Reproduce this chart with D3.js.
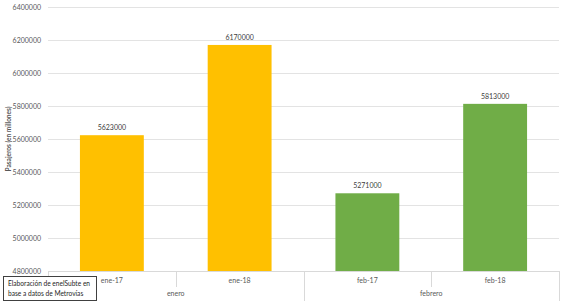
<!DOCTYPE html>
<html>
<head>
<meta charset="utf-8">
<script src="https://cdn.jsdelivr.net/npm/d3@7"></script>
<style>
  body { margin: 0; background: #fff; }
  svg { display: block; font-family: Lato, "Open Sans", sans-serif; }
</style>
</head>
<body>
<svg id="chart" width="566" height="304"></svg>
<script>
// values
var categories = ["ene-17", "ene-18", "feb-17", "feb-18"];
var months = ["enero", "enero", "febrero", "febrero"];
var groups = ["enero", "febrero"];
var pasajeros = [5623000, 6170000, 5271000, 5813000];
var yTicks = [4800000, 5000000, 5200000, 5400000, 5600000, 5800000, 6000000, 6200000, 6400000];
var groupColors = { enero: "#FFC000", febrero: "#70AD47" };

var svg = d3.select("#chart");
var plotLeft = 48, plotRight = 559, plotTop = 7, plotBottom = 271;

var x = d3.scaleBand().domain(categories).range([plotLeft, plotRight]).paddingInner(0.5).paddingOuter(0.25);
var xOuter = d3.scaleBand().domain(categories).range([plotLeft, plotRight]);
var y = d3.scaleLinear().domain([4800000, 6400000]).range([plotBottom, plotTop]);

// gridlines
svg.append("g")
    .selectAll("line")
    .data(yTicks)
    .enter().append("line")
    .attr("x1", plotLeft).attr("x2", plotRight)
    .attr("y1", function(d) { return Math.round(y(d)) + 0.5; })
    .attr("y2", function(d) { return Math.round(y(d)) + 0.5; })
    .style("stroke", "#e3e3e3")
    .style("stroke-width", 1);

// y tick labels
svg.append("g")
    .selectAll("text")
    .data(yTicks)
    .enter().append("text")
    .attr("x", 41)
    .attr("y", function(d) { return y(d) + 2.5; })
    .attr("text-anchor", "end")
    .style("font-size", "7px")
    .style("fill", "#595959")
    .text(function(d) { return d; });

// y axis title
svg.append("text")
    .attr("transform", "translate(11," + ((plotTop + plotBottom) / 2) + ") rotate(-90)")
    .attr("text-anchor", "middle")
    .style("font-size", "6.5px")
    .style("font-weight", "bold")
    .style("fill", "#595959")
    .text("Pasajeros (en millones)");

// bars
svg.append("g")
    .selectAll("rect")
    .data(pasajeros)
    .enter().append("rect")
    .attr("x", function(d, i) { return x(categories[i]); })
    .attr("width", x.bandwidth())
    .attr("y", function(d) { return y(d); })
    .attr("height", function(d) { return plotBottom - y(d); })
    .style("fill", function(d, i) { return groupColors[months[i]]; });

// value labels
svg.append("g")
    .selectAll("text")
    .data(pasajeros)
    .enter().append("text")
    .attr("x", function(d, i) { return x(categories[i]) + x.bandwidth() / 2; })
    .attr("y", function(d) { return y(d) - 5; })
    .attr("text-anchor", "middle")
    .style("font-size", "7px")
    .style("fill", "#404040")
    .text(function(d) { return d; });

// category axis (two levels)
var axis = svg.append("g").style("stroke", "#d9d9d9").style("stroke-width", 1);
axis.append("line")
    .attr("x1", plotLeft).attr("x2", plotRight)
    .attr("y1", plotBottom + 0.5).attr("y2", plotBottom + 0.5);

var seps = categories.map(function(c) { return xOuter(c); }).concat([plotRight]);
axis.selectAll("line.sep")
    .data(seps)
    .enter().append("line")
    .attr("class", "sep")
    .attr("x1", function(d) { return Math.round(d) + 0.5; })
    .attr("x2", function(d) { return Math.round(d) + 0.5; })
    .attr("y1", plotBottom)
    .attr("y2", function(d, i) { return (i === 1 || i === 3) ? 287 : 301; });

svg.append("g")
    .selectAll("text")
    .data(categories)
    .enter().append("text")
    .attr("x", function(d) { return xOuter(d) + xOuter.bandwidth() / 2; })
    .attr("y", 283)
    .attr("text-anchor", "middle")
    .style("font-size", "7px")
    .style("fill", "#595959")
    .text(function(d) { return d; });

svg.append("g")
    .selectAll("text")
    .data(groups)
    .enter().append("text")
    .attr("x", function(g) {
        var cats = categories.filter(function(c, i) { return months[i] === g; });
        return (xOuter(cats[0]) + xOuter(cats[cats.length - 1]) + xOuter.bandwidth()) / 2;
    })
    .attr("y", 296)
    .attr("text-anchor", "middle")
    .style("font-size", "7px")
    .style("fill", "#595959")
    .text(function(d) { return d; });

// source box
var box = svg.append("g");
box.append("rect")
    .attr("x", 3.5).attr("y", 276.5)
    .attr("width", 93).attr("height", 24)
    .style("fill", "#fff")
    .style("stroke", "#404040")
    .style("stroke-width", 1);
box.append("text")
    .attr("x", 8).attr("y", 286)
    .style("font-size", "6.6px")
    .style("fill", "#262626")
    .text("Elaboración de enelSubte en");
box.append("text")
    .attr("x", 8).attr("y", 296)
    .style("font-size", "6.6px")
    .style("fill", "#262626")
    .text("base a datos de Metrovías");
</script>
</body>
</html>
